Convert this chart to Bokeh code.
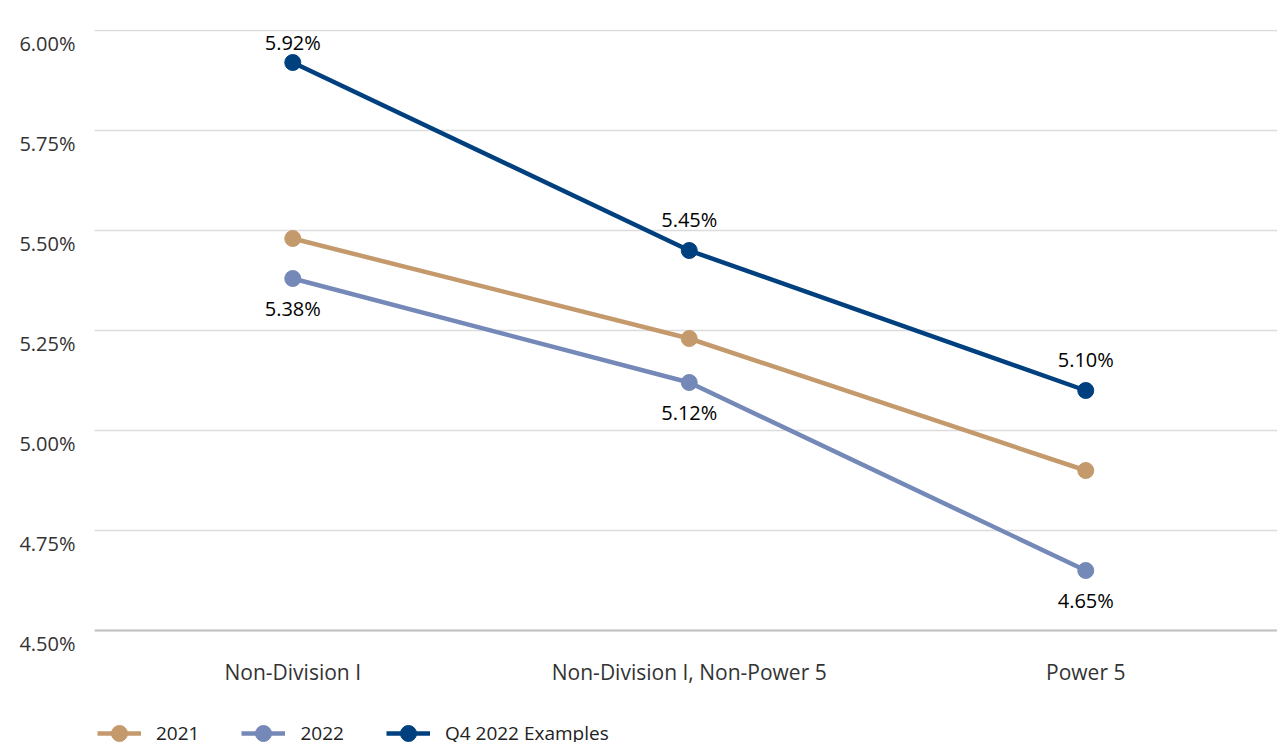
from bokeh.plotting import figure
from bokeh.models import (ColumnDataSource, LabelSet, FixedTicker, Legend,
                          LegendItem, Range1d, Span)
from bokeh.core.properties import value
from bokeh.embed import file_html
from bokeh.resources import INLINE

categories = ["Non-Division I", "Non-Division I, Non-Power 5", "Power 5"]
series_names = ["2021", "2022", "Q4 2022 Examples"]
values_2021 = [5.48, 5.23, 4.90]
values_2022 = [5.38, 5.12, 4.65]
values_q4 = [5.92, 5.45, 5.10]
y_ticks = [4.50, 4.75, 5.00, 5.25, 5.50, 5.75, 6.00]
y_tick_labels = ["4.50%", "4.75%", "5.00%", "5.25%", "5.50%", "5.75%", "6.00%"]

colors = ["#C49A6C", "#7489B8", "#00407F"]
FONT = "Open Sans"

# layout constants
W, H = 1277, 742
LEFT, TOP = 94, 29
PX_PER_UNIT = 400.0      # vertical pixels per 1 percentage point
CAT_PX = 396.5           # horizontal pixels per category
TICK_SHIFT = 12.5 / PX_PER_UNIT   # tick labels sit a little below their gridlines

frame_w = W - LEFT
frame_h = H - TOP
ymin, ymax = y_ticks[0], y_ticks[-1]
y_end = ymax + 1.0 / PX_PER_UNIT
y_start = y_end - frame_h / PX_PER_UNIT

xs = [i + 0.5 for i in range(len(categories))]

p = figure(width=W, height=H, x_range=Range1d(0, frame_w / CAT_PX),
           y_range=Range1d(y_start, y_end), output_backend="svg",
           toolbar_location=None, x_axis_location=None,
           min_border_left=LEFT, min_border_right=0, min_border_top=TOP,
           min_border_bottom=0)
p.outline_line_color = None
p.background_fill_color = "white"
p.border_fill_color = "white"
p.xgrid.visible = False
p.ygrid.ticker = FixedTicker(ticks=y_ticks)
p.ygrid.grid_line_color = "#dcdcdc"
p.ygrid.grid_line_width = 1.3

# y axis: labels drawn just below each gridline
shifted = [t - TICK_SHIFT for t in y_ticks]
yax = p.yaxis[0]
yax.ticker = FixedTicker(ticks=shifted)
yax.major_label_overrides = {t: lab for t, lab in zip(shifted, y_tick_labels)}
yax.axis_line_color = None
yax.major_tick_line_color = None
yax.minor_tick_line_color = None
yax.major_tick_in = 0
yax.major_tick_out = 0
yax.major_label_standoff = 19
yax.major_label_text_font = FONT
yax.major_label_text_font_size = "20px"
yax.major_label_text_color = "#333333"

# baseline at the bottom of the scale
p.add_layout(Span(location=ymin, dimension="width", line_color="#c2c2c2",
                  line_width=2))

# category labels
cat_src = ColumnDataSource(dict(x=xs, y=[ymin] * len(xs), text=categories))
p.add_layout(LabelSet(x="x", y="y", text="text", source=cat_src, y_offset=-41,
                      text_align="center", text_baseline="middle",
                      text_font=value(FONT), text_font_size="21px",
                      text_color="#333333"))

items = []
for name, vals, col in zip(series_names, [values_2021, values_2022, values_q4], colors):
    src = ColumnDataSource(dict(x=xs, y=vals))
    r1 = p.line("x", "y", source=src, line_color=col, line_width=4.5)
    r2 = p.scatter("x", "y", source=src, size=16, fill_color=col, line_color=col)
    items.append(LegendItem(label=name, renderers=[r1, r2]))

# data labels: Q4 above, 2022 below
q4_off = [min(31, (ymax - v) * PX_PER_UNIT - 12) for v in values_q4]
q4_src = ColumnDataSource(dict(x=xs, y=values_q4, off=q4_off,
                               text=["%.2f%%" % v for v in values_q4]))
p.add_layout(LabelSet(x="x", y="y", text="text", source=q4_src, y_offset="off",
                      text_align="center", text_baseline="middle",
                      text_font=value(FONT), text_font_size="20px",
                      text_color="#000000"))
s22_src = ColumnDataSource(dict(x=xs, y=values_2022,
                                text=["%.2f%%" % v for v in values_2022]))
p.add_layout(LabelSet(x="x", y="y", text="text", source=s22_src, y_offset=-30,
                      text_align="center", text_baseline="middle",
                      text_font=value(FONT), text_font_size="20px",
                      text_color="#000000"))

legend = Legend(items=items, orientation="horizontal", location=(3, -11),
                padding=0, margin=0, spacing=42, glyph_width=44, glyph_height=40,
                label_height=40, label_standoff=15, label_text_font=FONT,
                label_text_font_size="19px", label_text_color="#222222",
                border_line_color=None, background_fill_alpha=0)
p.add_layout(legend, "center")

open("out.html", "w").write(file_html(p, INLINE))
